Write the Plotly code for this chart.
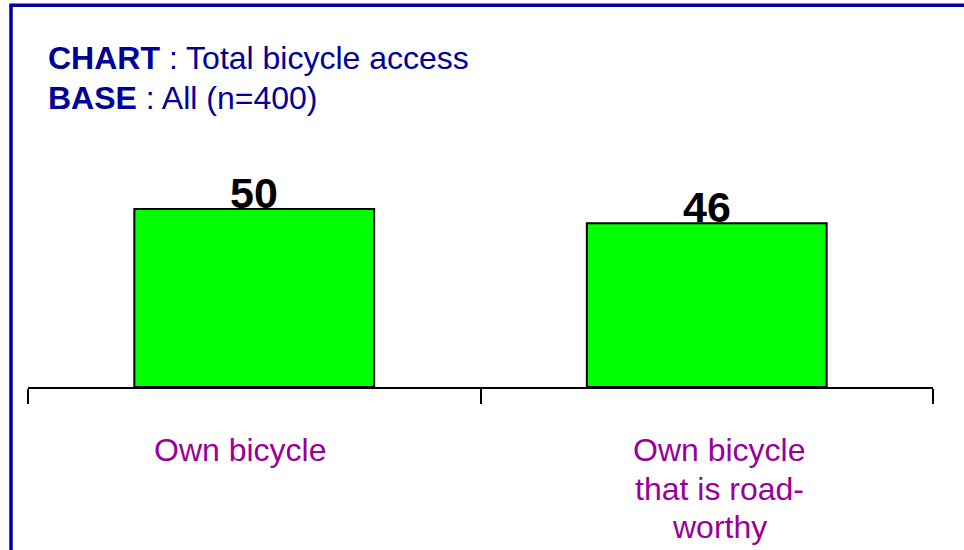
import plotly.graph_objects as go

# data
categories = ['Own bicycle', 'Own bicycle that is road-worthy']
category_lines = [['Own bicycle'], ['Own bicycle', 'that is road-', 'worthy']]
values = [50, 46]
value_labels = ['50', '46']

W, H = 964, 550
L, R, T, B = 28, 31, 120, 163
plot_w = W - L - R
plot_h = H - T - B

def px_x(px):
    return (px - L) / plot_w

def px_y(py):
    return (H - B - py) / plot_h

fig = go.Figure()
fig.add_trace(go.Bar(
    x=categories,
    y=values,
    marker=dict(color='#00FF00', line=dict(color='black', width=2)),
    width=0.53,
    hoverinfo='skip',
))

# value labels sitting on top of the bars
for c, v, t in zip(categories, values, value_labels):
    fig.add_annotation(x=c, y=v, text='<b>%s</b>' % t, showarrow=False,
                       yanchor='bottom', yshift=-10,
                       font=dict(size=43, color='black', family='Liberation Sans, Arial'))

# category labels below the axis (slightly off-centre, as in the original)
shifts = [-14, 13]
for c, lines, dx in zip(categories, category_lines, shifts):
    for i, line in enumerate(lines):
        fig.add_annotation(x=c, y=px_y(450 + i * 38.5), yref='paper', text=line,
                           showarrow=False, yanchor='middle', xshift=dx,
                           font=dict(size=32, color='#990099', family='Liberation Sans, Arial'))

# chart header
fig.add_annotation(x=px_x(46), y=px_y(58), xref='paper', yref='paper',
                   text='<b>CHART</b> : Total bicycle access', showarrow=False,
                   xanchor='left', yanchor='middle',
                   font=dict(size=32, color='#000099', family='Liberation Sans, Arial'))
fig.add_annotation(x=px_x(46), y=px_y(98), xref='paper', yref='paper',
                   text='<b>BASE</b> : All (n=400)', showarrow=False,
                   xanchor='left', yanchor='middle',
                   font=dict(size=32, color='#000099', family='Liberation Sans, Arial'))

# frame around the chart
fig.add_shape(type='rect', xref='paper', yref='paper',
              x0=px_x(11), x1=px_x(1000), y0=px_y(600), y1=px_y(5.25),
              line=dict(color='#0000A0', width=3.5))

fig.update_layout(
    width=W, height=H,
    margin=dict(l=L, r=R, t=T, b=B),
    paper_bgcolor='white',
    plot_bgcolor='white',
    showlegend=False,
    xaxis=dict(
        range=[-0.5, 1.5],
        showticklabels=False,
        tickson='boundaries',
        ticks='outside', ticklen=15, tickwidth=2, tickcolor='black',
        showline=True, linecolor='black', linewidth=2,
        showgrid=False, zeroline=False,
    ),
    yaxis=dict(
        range=[0, plot_h / 3.56],
        visible=False,
    ),
)

# drop the default page margin so the figure sits at the window's corner
fig.write_html("out.html", config={'displayModeBar': False},
               post_script="document.body.style.margin='0';")
